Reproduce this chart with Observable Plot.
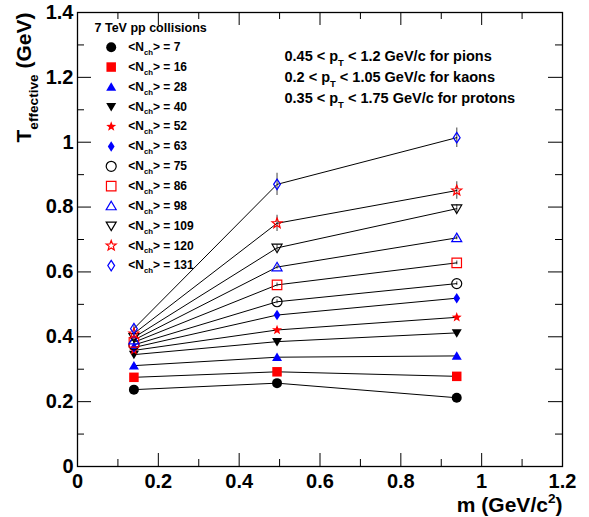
<!DOCTYPE html>
<html>
<head>
<meta charset="utf-8">
<script src="https://cdn.jsdelivr.net/npm/d3@7"></script>
<script src="https://cdn.jsdelivr.net/npm/@observablehq/plot@0.6"></script>
<style>
  html, body { margin: 0; padding: 0; background: white; }
  #chart { width: 589px; height: 517px; }
</style>
</head>
<body>
<div id="chart"></div>
<script>
// ---------------- data ----------------
const masses = [0.1396, 0.4937, 0.9383];           // pion, kaon, proton mass (GeV/c^2)
const nchValues = [7, 16, 28, 40, 52, 63, 75, 86, 98, 109, 120, 131];

const tEff_7   = [0.237, 0.257, 0.212];
const tEff_16  = [0.275, 0.292, 0.278];
const tEff_28  = [0.311, 0.337, 0.341];
const tEff_40  = [0.345, 0.385, 0.412];
const tEff_52  = [0.358, 0.421, 0.460];
const tEff_63  = [0.367, 0.467, 0.519];
const tEff_75  = [0.375, 0.508, 0.564];
const tEff_86  = [0.383, 0.560, 0.628];
const tEff_98  = [0.390, 0.615, 0.705];
const tEff_109 = [0.398, 0.674, 0.795];
const tEff_120 = [0.410, 0.750, 0.851];
const tEff_131 = [0.425, 0.870, 1.014];

const err_small = [0.005, 0.006, 0.006];
const err_109   = [0.008, 0.010, 0.012];
const err_120   = [0.008, 0.025, 0.027];
const err_131   = [0.010, 0.034, 0.030];

const xTickLabels = [0, 0.2, 0.4, 0.6, 0.8, 1, 1.2];
const xMinorTicks = [0.1, 0.3, 0.5, 0.7, 0.9, 1.1];
const yTickLabels = [0, 0.2, 0.4, 0.6, 0.8, 1, 1.2, 1.4];
const yMinorTicks = [0.1, 0.3, 0.5, 0.7, 0.9, 1.1, 1.3];

const legendTitle = "7 TeV pp collisions";
const ptRanges = [
  "0.45 < p_{T} < 1.2 GeV/c for pions",
  "0.2 < p_{T} < 1.05 GeV/c for kaons",
  "0.35 < p_{T} < 1.75 GeV/c for protons"
];
const xTitle = "m (GeV/c^{2})";
const yTitle = "T_{effective} (GeV)";

// ---------------- symbols (ROOT-like) ----------------
const rOf = size => Math.sqrt(size / Math.PI);
const symCircle = { draw(c, size) { const r = rOf(size); c.moveTo(r, 0); c.arc(0, 0, r, 0, 2 * Math.PI); c.closePath(); } };
const symSquare = { draw(c, size) { const r = rOf(size) * 0.95; c.rect(-r, -r, 2 * r, 2 * r); } };
const symTriUp = { draw(c, size) { const r = rOf(size); c.moveTo(0, -r * 0.95); c.lineTo(r, r * 0.75); c.lineTo(-r, r * 0.75); c.closePath(); } };
const symTriDown = { draw(c, size) { const r = rOf(size); c.moveTo(0, r * 0.95); c.lineTo(r, -r * 0.75); c.lineTo(-r, -r * 0.75); c.closePath(); } };
const symStar = { draw(c, size) {
  const R = rOf(size) * 1.05, ri = R * 0.42;
  for (let k = 0; k < 10; k++) {
    const a = -Math.PI / 2 + k * Math.PI / 5, rr = k % 2 ? ri : R;
    const px = rr * Math.cos(a), py = rr * Math.sin(a);
    k ? c.lineTo(px, py) : c.moveTo(px, py);
  }
  c.closePath();
} };
const symDiamond = { draw(c, size) { const r = rOf(size); c.moveTo(0, -r * 1.05); c.lineTo(r * 0.68, 0); c.lineTo(0, r * 1.05); c.lineTo(-r * 0.68, 0); c.closePath(); } };

const RED = "#ff0000", BLUE = "#0000ff", BLACK = "#000000";
const seriesStyle = [
  { sym: symCircle,   color: BLACK, filled: true  },
  { sym: symSquare,   color: RED,   filled: true  },
  { sym: symTriUp,    color: BLUE,  filled: true  },
  { sym: symTriDown,  color: BLACK, filled: true  },
  { sym: symStar,     color: RED,   filled: true  },
  { sym: symDiamond,  color: BLUE,  filled: true  },
  { sym: symCircle,   color: BLACK, filled: false },
  { sym: symSquare,   color: RED,   filled: false },
  { sym: symTriUp,    color: BLUE,  filled: false },
  { sym: symTriDown,  color: BLACK, filled: false },
  { sym: symStar,     color: RED,   filled: false },
  { sym: symDiamond,  color: BLUE,  filled: false }
];
const seriesValues = [tEff_7, tEff_16, tEff_28, tEff_40, tEff_52, tEff_63, tEff_75, tEff_86, tEff_98, tEff_109, tEff_120, tEff_131];
const seriesErrors = [err_small, err_small, err_small, err_small, err_small, err_small, err_small, err_small, err_small, err_109, err_120, err_131];

const rows = nchValues.flatMap((n, s) => masses.map((m, i) => ({ nch: n, m, t: seriesValues[s][i], err: seriesErrors[s][i] })));

// ---------------- layout ----------------
const W = 589, H = 517;
const mL = 77, mR = 27, mT = 12, mB = 51;
const FW = W - mL - mR, FH = H - mT - mB;
const FONT = "'Liberation Sans', Arial, Helvetica, sans-serif";
const fmt = d => String(+d.toFixed(1));

const marks = [];
// ticks (inside, mirrored on all four sides)
marks.push(Plot.tickX(xTickLabels, { x: d => d, insetTop: FH - 13, stroke: "black" }));
marks.push(Plot.tickX(xMinorTicks, { x: d => d, insetTop: FH - 7, stroke: "black" }));
marks.push(Plot.tickX(xTickLabels, { x: d => d, insetBottom: FH - 13, stroke: "black" }));
marks.push(Plot.tickX(xMinorTicks, { x: d => d, insetBottom: FH - 7, stroke: "black" }));
marks.push(Plot.tickY(yTickLabels, { y: d => d, insetRight: FW - 14, stroke: "black" }));
marks.push(Plot.tickY(yMinorTicks, { y: d => d, insetRight: FW - 7, stroke: "black" }));
marks.push(Plot.tickY(yTickLabels, { y: d => d, insetLeft: FW - 14, stroke: "black" }));
marks.push(Plot.tickY(yMinorTicks, { y: d => d, insetLeft: FW - 7, stroke: "black" }));
marks.push(Plot.frame({ stroke: "black", strokeWidth: 1.3 }));
// tick labels
marks.push(Plot.text(xTickLabels, { x: d => d, frameAnchor: "bottom", dy: 15, text: fmt, lineAnchor: "middle", textAnchor: "middle", fontSize: 20, fontWeight: "bold", fill: "black" }));
marks.push(Plot.text(yTickLabels, { y: d => d, frameAnchor: "left", dx: -4, text: fmt, lineAnchor: "middle", textAnchor: "end", fontSize: 20, fontWeight: "bold", fill: "black" }));
// axis titles
marks.push(Plot.text([xTitle], { text: d => d, frameAnchor: "bottom-right", dx: 0, dy: 39, textAnchor: "end", lineAnchor: "middle", fontSize: 21, fontWeight: "bold", fill: "black" }));
marks.push(Plot.text([yTitle], { text: d => d, frameAnchor: "top-left", dx: -53, dy: 0, rotate: -90, textAnchor: "end", lineAnchor: "middle", fontSize: 21, fontWeight: "bold", fill: "black" }));
// error bars, lines, points
marks.push(Plot.ruleX(rows, { x: "m", y1: d => d.t - d.err, y2: d => d.t + d.err, stroke: "#777", strokeWidth: 1.4 }));
marks.push(Plot.line(rows, { x: "m", y: "t", z: "nch", stroke: "black", strokeWidth: 1 }));
nchValues.forEach((n, s) => {
  const st = seriesStyle[s];
  const style = { symbol: st.sym, r: 5, fill: st.filled ? st.color : "none", stroke: st.filled ? "none" : st.color, strokeWidth: 1.2 };
  marks.push(Plot.dot(rows.filter(d => d.nch === n), { x: "m", y: "t", ...style }));
  // legend entry
  marks.push(Plot.dot([n], { frameAnchor: "top-left", dx: 33.7, dy: 34.7 + s * 19.85, ...style }));
  marks.push(Plot.text([n], { frameAnchor: "top-left", dx: 50.7, dy: 34.7 + s * 19.85, text: d => `<N_{ch}> = ${d}`, textAnchor: "start", lineAnchor: "middle", fontSize: 12, fontWeight: "bold", fill: "black" }));
});
marks.push(Plot.text([legendTitle], { frameAnchor: "top-left", dx: 17, dy: 15.3, text: d => d, textAnchor: "start", lineAnchor: "middle", fontSize: 12.5, fontWeight: "bold", fill: "black" }));
ptRanges.forEach((t, i) => {
  marks.push(Plot.text([t], { frameAnchor: "top-left", dx: 207, dy: 44 + i * 21, text: d => d, textAnchor: "start", lineAnchor: "middle", fontSize: 14.5, fontWeight: "bold", fill: "black" }));
});

const plot = Plot.plot({
  width: W, height: H,
  marginLeft: mL, marginRight: mR, marginTop: mT, marginBottom: mB,
  x: { domain: [0, 1.2], axis: null },
  y: { domain: [0, 1.4], axis: null },
  style: { fontFamily: FONT, background: "white", overflow: "visible" },
  marks
});
document.getElementById("chart").appendChild(plot);

// ---------------- rich text: _{sub} and ^{sup} ----------------
function richify(root) {
  root.querySelectorAll("text").forEach(t => {
    const s = t.textContent;
    if (!/[_^]\{/.test(s)) return;
    const fs = parseFloat(getComputedStyle(t).fontSize) || 12;
    const parts = [];
    const re = /([_^])\{([^}]*)\}/g;
    let last = 0, m;
    while ((m = re.exec(s))) {
      if (m.index > last) parts.push({ kind: "n", txt: s.slice(last, m.index) });
      parts.push({ kind: m[1] === "_" ? "sub" : "sup", txt: m[2] });
      last = re.lastIndex;
    }
    if (last < s.length) parts.push({ kind: "n", txt: s.slice(last) });
    while (t.firstChild) t.removeChild(t.firstChild);
    const NS = "http://www.w3.org/2000/svg";
    let shift = 0;
    parts.forEach((p, k) => {
      const ts = document.createElementNS(NS, "tspan");
      ts.textContent = p.txt;
      let target = 0;
      if (p.kind === "sub") { target = 0.32 * fs; ts.setAttribute("font-size", (0.65 * fs).toFixed(2)); }
      if (p.kind === "sup") { target = -0.42 * fs; ts.setAttribute("font-size", (0.65 * fs).toFixed(2)); }
      const d = target - shift;
      if (d !== 0) ts.setAttribute("dy", d.toFixed(2));
      shift = target;
      t.appendChild(ts);
    });
  });
}
richify(plot);
</script>
</body>
</html>
